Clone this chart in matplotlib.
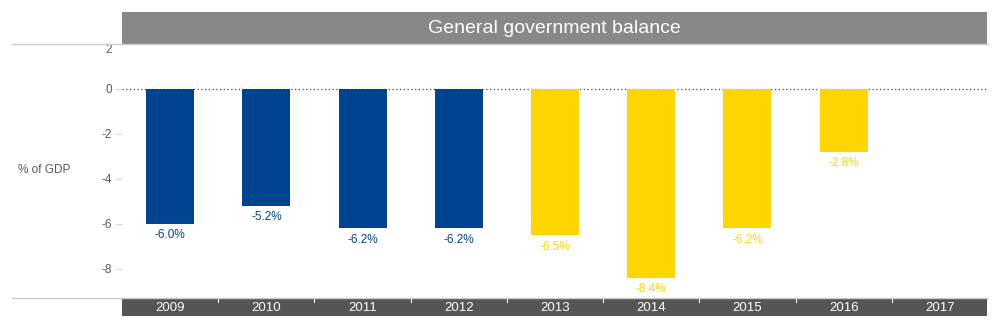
import numpy as np
import matplotlib
matplotlib.use('Agg')
import matplotlib.pyplot as plt
from matplotlib.patches import Rectangle
from matplotlib.lines import Line2D

plt.rcParams['font.family'] = ['Liberation Sans', 'DejaVu Sans']
plt.rcParams['axes.unicode_minus'] = False

years = ['2009', '2010', '2011', '2012', '2013', '2014', '2015', '2016', '2017']
balance = [-6.0, -5.2, -6.2, -6.2, -6.5, -8.4, -6.2, -2.8, np.nan]
period = ['a', 'a', 'a', 'a', 'b', 'b', 'b', 'b', 'b']
period_colors = {'a': '#00438f', 'b': '#ffd500'}
title = 'General government balance'
ylabel = '% of GDP'

fig = plt.figure(figsize=(10, 3.3), dpi=100)
ax = fig.add_axes([0.122, 0.097, 0.866, 0.770])

x = np.arange(len(years))
colors = [period_colors[p] for p in period]
ax.bar(x, balance, width=0.5, color=colors, zorder=2)

for xi, v, c in zip(x, balance, colors):
    if np.isnan(v):
        continue
    ax.annotate(f'{v:.1f}%', (xi, v), xytext=(0, -4), textcoords='offset points',
                ha='center', va='top', fontsize=8.5, color=c)

ax.axhline(0, color='#444444', linestyle=(0, (1, 2)), linewidth=0.9, zorder=1)

ax.set_xlim(-0.5, len(years) - 0.5)
ax.set_ylim(-9.3, 2)
ax.set_yticks([2, 0, -2, -4, -6, -8])
ax.tick_params(axis='y', colors='#dddddd', labelcolor='#595959', labelsize=8.5,
               length=5, width=0.8, pad=2)
ax.get_yticklabels()[0].set_verticalalignment('top')
ax.set_xticks([])
for s in ax.spines.values():
    s.set_visible(False)

# title bar
fig.patches.append(Rectangle((0.122, 0.867), 0.865, 0.097, transform=fig.transFigure,
                             facecolor='#888888', edgecolor='none'))
fig.text(0.554, 0.915, title, ha='center', va='center', fontsize=14, color='white')

# bottom category band
fig.patches.append(Rectangle((0.122, 0.042), 0.865, 0.055, transform=fig.transFigure,
                             facecolor='#555555', edgecolor='none'))
for xi, yr in zip(x, years):
    xf = fig.transFigure.inverted().transform(ax.transData.transform((xi, 0)))[0]
    fig.text(xf, 0.068, yr, ha='center', va='center', fontsize=9.5, color='white')
for b in range(1, len(years)):
    xf = fig.transFigure.inverted().transform(ax.transData.transform((b - 0.5, 0)))[0]
    fig.lines.append(Line2D([xf, xf], [0.097, 0.085], transform=fig.transFigure,
                            color='white', linewidth=0.8))

# light separator lines
for yf in (0.867, 0.097):
    fig.lines.append(Line2D([0.012, 0.988], [yf, yf], transform=fig.transFigure,
                            color='#cccccc', linewidth=1))

fig.text(0.018, 0.485, ylabel, ha='left', va='center', fontsize=8.5, color='#595959')

fig.savefig('out.png', dpi=100)
